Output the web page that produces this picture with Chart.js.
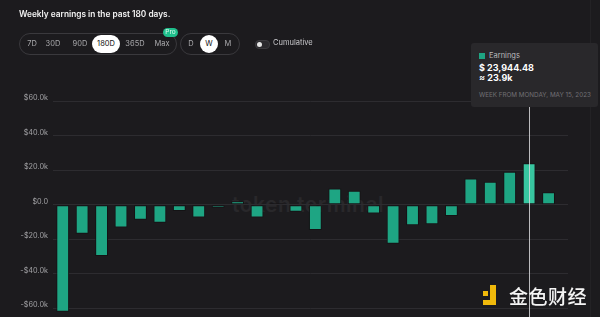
<!DOCTYPE html>
<html>
<head>
<meta charset="utf-8">
<script src="https://cdn.jsdelivr.net/npm/chart.js@4"></script>
<style>
  html, body { margin: 0; padding: 0; }
  body { width: 600px; height: 317px; overflow: hidden; background: #1c1b1e; font-family: Inter, "Noto Sans", sans-serif; position: relative; }
  .abs { position: absolute; }
  #title { left: 19px; top: 9px; color: #f2f2f2; font-size: 8.3px; font-weight: 600; }
  .group { border: 1px solid #3a393d; border-radius: 12px; height: 20px; top: 33px; }
  .btn { top: 0; height: 20px; line-height: 20px; font-size: 7.5px; color: #a8a8ab; text-align: center; transform: translateX(-50%); }
  .sel { background: #fff; color: #111; border-radius: 10px; height: 18px; line-height: 18px; top: 1px; }
  #pro { left: 163px; top: 28px; width: 15px; height: 9px; line-height: 9px; border-radius: 5px; background: #1fbf8c; color: #dffdf0; font-size: 6.5px; text-align: center; }
  #toggle { left: 255px; top: 40px; width: 13px; height: 7px; border-radius: 4px; background: #2b2a2e; border: 1px solid #3b3a3e; }
  #knob { left: 1px; top: 1px; width: 5px; height: 5px; border-radius: 3px; background: #e6e6e6; }
  #cum { left: 273px; top: 38px; color: #c8c8cb; font-size: 7.5px; }
  #watermark { left: 232px; top: 192px; color: #29282b; font-size: 21px; font-weight: 600; letter-spacing: 0.5px; }
  #chart { position: absolute; left: 0; top: 0; }
  #tip { left: 471px; top: 43px; width: 127px; height: 64px; background: #29282b; border-radius: 3px; }
  #tip .sw { left: 8px; top: 10px; width: 6px; height: 6px; background: #1ea583; }
  #tip .name { left: 18px; top: 8px; color: #b9b9bc; font-size: 7.5px; }
  #tip .val { left: 8px; top: 19px; color: #fff; font-size: 9px; font-weight: 700; }
  #tip .approx { left: 8px; top: 29px; color: #fff; font-size: 9px; font-weight: 700; }
  #tip .date { left: 8px; top: 48px; color: #727175; font-size: 6.3px; white-space: nowrap; }
  #edge { left: 590px; top: 0; width: 1px; height: 317px; background: #232225; }
  #logo { left: 483px; top: 285px; }
  #logo-text { left: 509px; top: 282px; color: #f4f4f4; font-size: 19px; font-family: "Noto Sans CJK SC", sans-serif; font-weight: 500; letter-spacing: 0.5px; }
</style>
</head>
<body>
<div id="edge" class="abs"></div>
<div id="watermark" class="abs">token terminal</div>
<canvas id="chart" width="600" height="328"></canvas>

<div id="title" class="abs">Weekly earnings in the past 180 days.</div>
<div class="abs group" style="left:19px;width:156px;" id="ranges"></div>
<div id="pro" class="abs">Pro</div>
<div class="abs group" style="left:180px;width:58px;" id="periods"></div>
<div id="toggle" class="abs"><div id="knob" class="abs"></div></div>
<div id="cum" class="abs">Cumulative</div>

<div id="tip" class="abs">
  <div class="abs sw"></div>
  <div class="abs name">Earnings</div>
  <div class="abs val" id="tip-val"></div>
  <div class="abs approx" id="tip-approx"></div>
  <div class="abs date" id="tip-date"></div>
</div>

<div id="logo" class="abs">
  <div class="abs" style="left:0;top:6px;width:5px;height:5px;background:#f0b90b;"></div>
  <div class="abs" style="left:7px;top:0;width:6px;height:20px;background:#f0b90b;"></div>
  <div class="abs" style="left:0;top:15px;width:13px;height:5px;background:#f0b90b;"></div>
</div>
<div id="logo-text" class="abs">金色财经</div>

<script>
// week start dates (Mondays) and weekly earnings in USD
const weekStarts = [
  'Nov 28, 2022', 'Dec 5, 2022', 'Dec 12, 2022', 'Dec 19, 2022', 'Dec 26, 2022',
  'Jan 2, 2023', 'Jan 9, 2023', 'Jan 16, 2023', 'Jan 23, 2023', 'Jan 30, 2023',
  'Feb 6, 2023', 'Feb 13, 2023', 'Feb 20, 2023', 'Feb 27, 2023', 'Mar 6, 2023',
  'Mar 13, 2023', 'Mar 20, 2023', 'Mar 27, 2023', 'Apr 3, 2023', 'Apr 10, 2023',
  'Apr 17, 2023', 'Apr 24, 2023', 'May 1, 2023', 'May 8, 2023', 'May 15, 2023',
  'May 22, 2023'
];
const earnings = [
  -62000, -16900, -29800, -13200, -8700,
  -10500, -3700, -7400, -1800, 1900,
  -7400, 800, -4100, -14700, 9300,
  8100, -5200, -22700, -12000, -11400,
  -6600, 15100, 13200, 19000, 23944.48,
  7200
];
const yTicks = [-60000, -40000, -20000, 0, 20000, 40000, 60000];
const rangeLabels = ['7D', '30D', '90D', '180D', '365D', 'Max'];
const periodLabels = ['D', 'W', 'M'];
const activeIndex = 24;

// header buttons
function fillGroup(id, labels, centers, selected, selWidth) {
  const g = document.getElementById(id);
  labels.forEach((lab, i) => {
    const b = document.createElement('div');
    b.className = 'abs btn' + (lab === selected ? ' sel' : '');
    b.style.left = centers[i] + 'px';
    b.style.width = (lab === selected ? selWidth : 20) + 'px';
    b.innerText = lab;
    g.appendChild(b);
  });
}
fillGroup('ranges', rangeLabels, [12, 33, 60, 86, 115, 142], '180D', 28);
fillGroup('periods', periodLabels, [10, 28, 47], 'W', 18);

// tooltip text
const v = earnings[activeIndex];
document.getElementById('tip-val').innerText = '$ ' + v.toLocaleString('en-US', { minimumFractionDigits: 2, maximumFractionDigits: 2 });
document.getElementById('tip-approx').innerText = '\u2248 ' + (v / 1000).toFixed(1) + 'k';
document.getElementById('tip-date').innerText = 'WEEK FROM MONDAY, ' + weekStarts[activeIndex].toUpperCase();

function fmtK(val) {
  if (val === 0) return '$0.0';
  return (val < 0 ? '-' : '') + '$' + (Math.abs(val) / 1000).toFixed(1) + 'k';
}

// vertical hover line at the active bar
const hoverLine = {
  id: 'hoverLine',
  afterDatasetsDraw(chart) {
    const bar = chart.getDatasetMeta(0).data[activeIndex];
    const ctx = chart.ctx;
    ctx.save();
    ctx.strokeStyle = 'rgba(215,215,218,0.85)';
    ctx.lineWidth = 1;
    ctx.beginPath();
    ctx.moveTo(Math.round(bar.x) + 0.5, 43);
    ctx.lineTo(Math.round(bar.x) + 0.5, chart.height);
    ctx.stroke();
    ctx.restore();
  }
};

const chart = new Chart(document.getElementById('chart'), {
  type: 'bar',
  data: {
    labels: weekStarts,
    datasets: [{
      label: 'Earnings',
      data: earnings.map((e, i) => ({ x: i, y: e })),
      backgroundColor: earnings.map((e, i) => i === activeIndex ? '#38c6a0' : '#1ea583'),
      borderColor: '#141315',
      borderWidth: 1,
      borderSkipped: false,
      barPercentage: 0.66,
      categoryPercentage: 1
    }]
  },
  options: {
    responsive: false,
    animation: false,
    layout: { padding: { top: 101, right: 32, bottom: 0, left: 0 } },
    plugins: { legend: { display: false }, tooltip: { enabled: false } },
    scales: {
      x: { type: 'linear', min: -0.5, max: 26, offset: false, display: false },
      y: {
        min: -66000,
        max: 60000,
        afterBuildTicks: (scale) => { scale.ticks = yTicks.map(t => ({ value: t })); },
        afterFit: (scale) => { scale.width = 53; },
        border: { display: false },
        grid: { color: '#2d2c30', drawTicks: false },
        ticks: {
          color: '#a3a3a6',
          font: { family: 'Inter', size: 7.3 },
          padding: 5,
          labelOffset: -3,
          callback: (val) => fmtK(val)
        }
      }
    }
  },
  plugins: [hoverLine]
});
</script>
</body>
</html>
